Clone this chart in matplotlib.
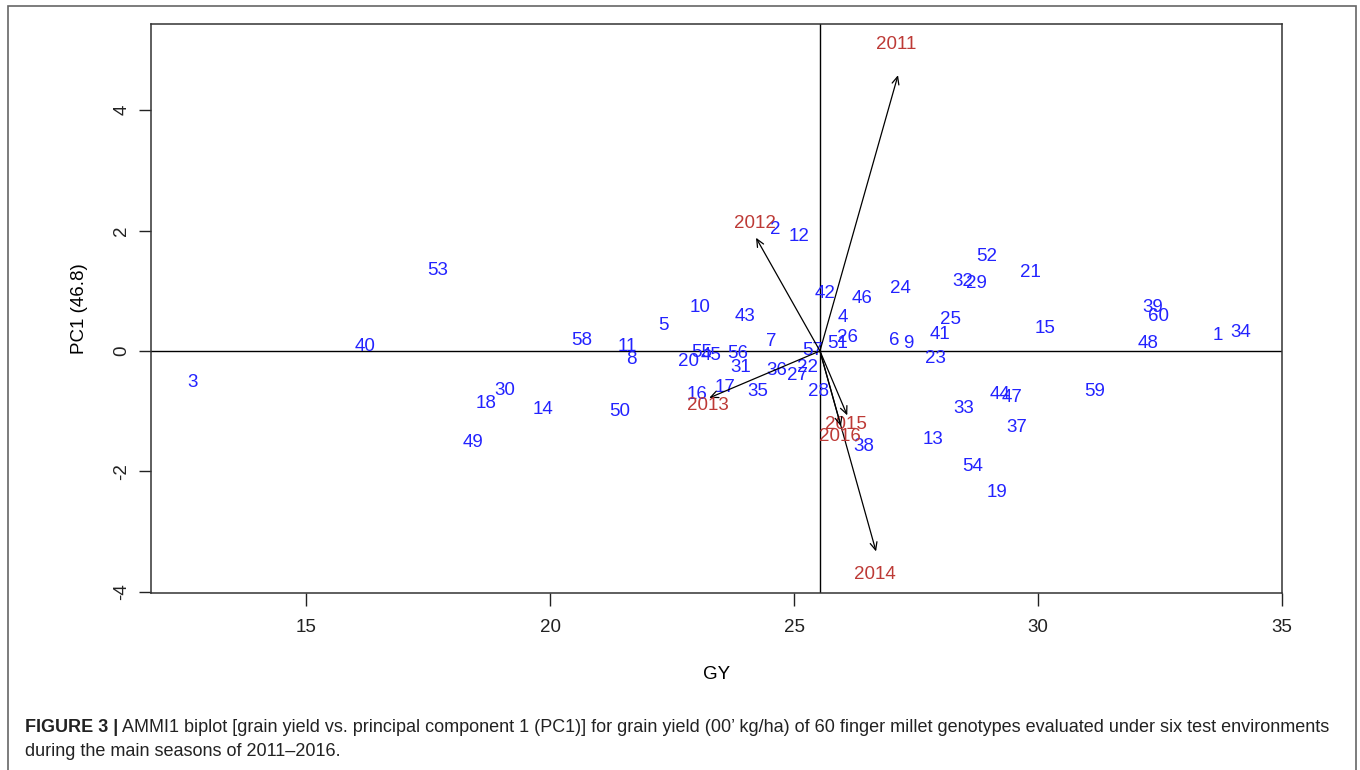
import numpy as np
import matplotlib
matplotlib.use('Agg')
import matplotlib.pyplot as plt
from matplotlib.patches import Rectangle

plt.rcParams['font.family'] = ['Liberation Sans', 'DejaVu Sans']

# Genotype scores: grain yield (GY) and PC1
geno_ids = [str(i) for i in range(1, 61)]
geno_gy = [33.69, 24.61, 12.68, 26.00, 22.32, 27.05, 24.53, 21.66, 27.34, 23.07,
           21.58, 25.10, 27.85, 19.86, 30.14, 23.01, 23.59, 18.69, 29.16, 22.84,
           29.84, 25.27, 27.89, 27.19, 28.20, 26.10, 25.06, 25.51, 28.73, 19.08,
           23.90, 28.46, 28.48, 34.16, 24.26, 24.65, 29.57, 26.43, 32.36, 16.21,
           27.99, 25.64, 24.00, 29.22, 23.29, 26.39, 29.47, 32.25, 18.42, 21.43,
           25.90, 28.95, 17.70, 28.65, 23.10, 23.84, 25.39, 20.64, 31.17, 32.46]
geno_pc1 = [0.25, 2.02, -0.52, 0.55, 0.43, 0.18, 0.15, -0.15, 0.12, 0.72,
            0.07, 1.90, -1.47, -0.97, 0.37, -0.72, -0.60, -0.88, -2.35, -0.17,
            1.30, -0.28, -0.12, 1.03, 0.53, 0.22, -0.40, -0.68, 1.12, -0.65,
            -0.28, 1.15, -0.95, 0.30, -0.68, -0.33, -1.27, -1.58, 0.72, 0.07,
            0.28, 0.95, 0.57, -0.73, -0.08, 0.87, -0.78, 0.13, -1.52, -1.00,
            0.12, 1.57, 1.33, -1.92, -0.02, -0.05, 0.00, 0.18, -0.68, 0.58]

# Environment (year) scores
env_ids = ['2011', '2012', '2013', '2014', '2015', '2016']
env_gy = [27.13, 24.22, 23.26, 26.68, 26.09, 25.96]
env_pc1 = [4.58, 1.88, -0.78, -3.33, -1.07, -1.25]

mean_gy = 25.53
pc1_pct = 46.8

caption_bold = 'FIGURE 3 |'
caption_rest = (" AMMI1 biplot [grain yield vs. principal component 1 (PC1)] for grain yield "
                "(00\u2019 kg/ha) of 60 finger millet genotypes evaluated under six test environments")
caption_line2 = 'during the main seasons of 2011\u20132016.'

W, H = 1360, 770
fig = plt.figure(figsize=(W / 100, H / 100), dpi=100)

# outer frame of the figure panel
fig.add_artist(Rectangle((8 / W, -0.01), (1356 - 8) / W, 1 - 6 / H + 0.01,
                         transform=fig.transFigure, fill=False,
                         edgecolor='#666666', linewidth=1.2))

ax = fig.add_axes([151 / W, 1 - 593 / H, (1282 - 151) / W, (593 - 24) / H])
ax.set_xlim(11.82, 35.0)
ax.set_ylim(-4.02, 5.43)

ax.axhline(0, color='black', linewidth=1)
ax.axvline(mean_gy, color='black', linewidth=1)

blue = '#2323ff'
red = '#bd3a36'

for gid, gx, gy in zip(geno_ids, geno_gy, geno_pc1):
    ax.text(gx, gy, gid, color=blue, fontsize=13.5, ha='center', va='center')

for eid, ex, ey in zip(env_ids, env_gy, env_pc1):
    ax.annotate('', xy=(ex, ey), xytext=(mean_gy, 0),
                arrowprops=dict(arrowstyle='->,head_length=0.55,head_width=0.25',
                                color='black', linewidth=0.9,
                                shrinkA=0, shrinkB=0))
    ly = ey * 1.1 + np.sign(ey) * 0.05
    ax.text(ex - 0.03, ly, eid, color=red, fontsize=13.5, ha='center', va='center')

ax.set_xticks([15, 20, 25, 30, 35])
ax.set_yticks([-4, -2, 0, 2, 4])
ax.set_yticklabels(['-4', '-2', '0', '2', '4'], rotation=90, va='center')
ax.tick_params(direction='out', length=9, width=1, labelsize=13.5,
               colors='#222222', pad=10)
ax.tick_params(axis='y', pad=6)
for s in ax.spines.values():
    s.set_linewidth(1.1)
    s.set_color('#333333')

ax.set_xlabel('GY', fontsize=13.5, labelpad=21)
ax.set_ylabel(f'PC1 ({pc1_pct})', fontsize=13.5, labelpad=18)

# caption: bold figure number followed by regular text
fig.canvas.draw()
renderer = fig.canvas.get_renderer()
t1 = fig.text(25 / W, 1 - 728 / H, caption_bold, fontsize=13,
              fontweight='bold', va='center', ha='left', color='#222222')
bb = t1.get_window_extent(renderer=renderer)
fig.text(bb.x1 / W, 1 - 728 / H, caption_rest, fontsize=13,
         va='center', ha='left', color='#222222')
fig.text(25 / W, 1 - 752 / H, caption_line2, fontsize=13,
         va='center', ha='left', color='#222222')

fig.savefig('out.png', dpi=100)
